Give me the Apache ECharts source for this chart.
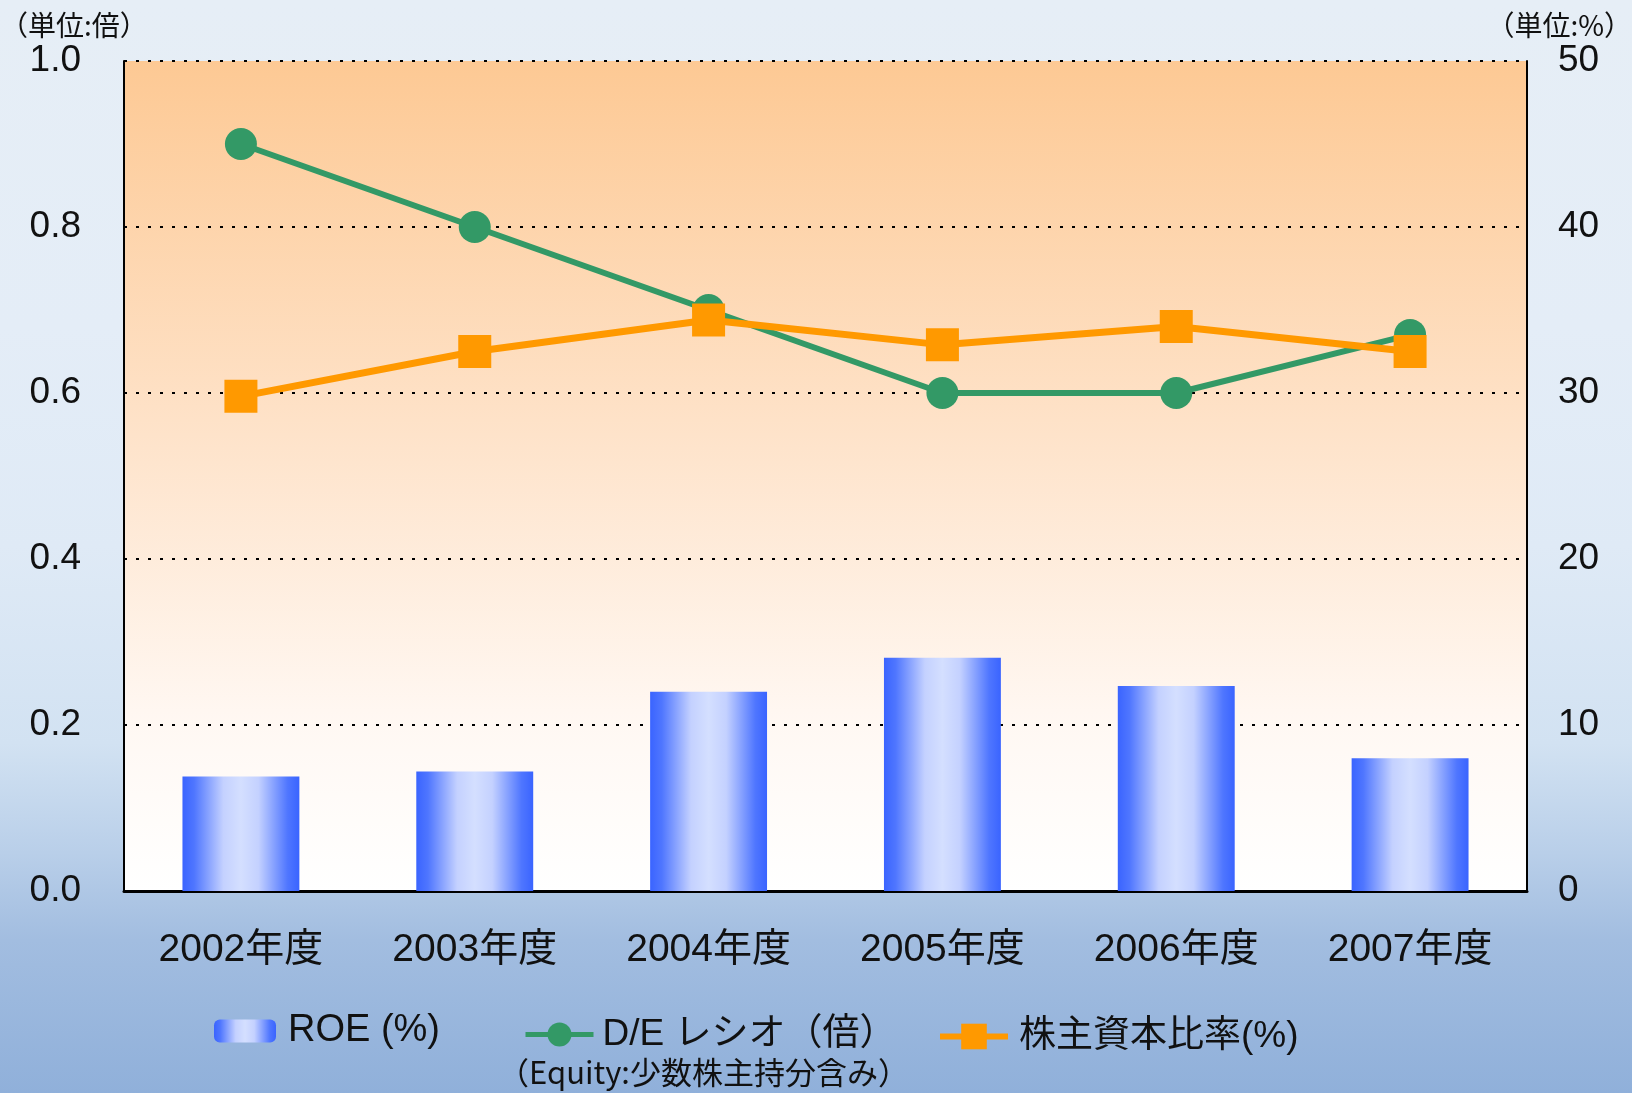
<!DOCTYPE html>
<html>
<head>
<meta charset="utf-8">
<script src="https://cdn.jsdelivr.net/npm/echarts@6/dist/echarts.min.js"></script>
<style>
html,body{margin:0;padding:0;width:1632px;height:1093px;overflow:hidden;}
body{background:linear-gradient(180deg,#e6eef6 0%,#e4edf7 30%,#dfeaf6 50%,#d2e2f2 68%,#b9cfe9 78%,#a2bde0 86%,#90b0da 100%);}
#c{width:1632px;height:1093px;}
</style>
</head>
<body>
<div id="c"></div>
<script>
const categories = ['2002年度','2003年度','2004年度','2005年度','2006年度','2007年度'];
const roe = [6.9, 7.2, 12.0, 14.05, 12.35, 8.0];
const deRatio = [0.9, 0.8, 0.7, 0.6, 0.6, 0.67];
const equityRatio = [29.8, 32.5, 34.4, 32.9, 34.0, 32.5];
const leftTicks = {min:0, max:1.0, interval:0.2};
const rightTicks = {min:0, max:50, interval:10};

const FONT = '"Liberation Sans", Arial, "Noto Sans CJK JP", sans-serif';
const chart = echarts.init(document.getElementById('c'), null, {renderer:'canvas'});

const barGrad = new echarts.graphic.LinearGradient(0,0,1,0,[
  {offset:0,color:'#3a64ff'},{offset:0.1,color:'#4f76ff'},
  {offset:0.35,color:'#c4d1ff'},{offset:0.5,color:'#d4dfff'},
  {offset:0.65,color:'#c4d1ff'},{offset:0.9,color:'#4f76ff'},{offset:1,color:'#3a64ff'}]);

chart.setOption({
  backgroundColor:'transparent',
  animation:false,
  textStyle:{fontFamily:FONT},
  grid:{left:124,right:105,top:61,bottom:202,show:true,borderWidth:0,
    backgroundColor:new echarts.graphic.LinearGradient(0,0,0,1,[
      {offset:0,color:'#fdc994'},{offset:0.45,color:'#fee3ca'},{offset:0.8,color:'#fff8f3'},{offset:1,color:'#ffffff'}])},
  xAxis:{type:'category',data:categories,
    axisLine:{show:true,lineStyle:{color:'#000',width:3}},
    axisTick:{show:false},
    axisLabel:{fontSize:39,color:'#111',margin:40,fontFamily:FONT}},
  yAxis:[
    {type:'value',min:leftTicks.min,max:leftTicks.max,interval:leftTicks.interval,position:'left',
     axisLine:{show:true,lineStyle:{color:'#000',width:2}},axisTick:{show:false},
     axisLabel:{fontSize:37,color:'#111',margin:43,formatter:v=>v.toFixed(1),fontFamily:FONT},
     splitLine:{show:true,lineStyle:{color:'#000',width:2,type:[3,9]}}},
    {type:'value',min:rightTicks.min,max:rightTicks.max,interval:rightTicks.interval,position:'right',
     axisLine:{show:true,lineStyle:{color:'#000',width:2}},axisTick:{show:false},
     axisLabel:{fontSize:37,color:'#111',margin:31,fontFamily:FONT},
     splitLine:{show:false}}
  ],
  legend:[
    {data:['ROE (%)'],left:214,top:1012,padding:0,itemWidth:62,itemHeight:23,
     textStyle:{fontSize:38,color:'#111',fontFamily:FONT,padding:[0,0,0,7]}},
    {data:['D/E レシオ（倍）'],left:523,top:1016,padding:0,itemWidth:68,itemHeight:30,
     lineStyle:{width:5},
     textStyle:{fontSize:37,color:'#111',fontFamily:FONT,padding:[0,0,0,4]}},
    {data:['株主資本比率(%)'],left:937,top:1018,padding:0,itemWidth:68,itemHeight:32,
     lineStyle:{width:6},
     textStyle:{fontSize:37,color:'#111',fontFamily:FONT,padding:[0,0,0,6]}}
  ],
  graphic:[
    {type:'text',left:0,top:11,style:{text:'（単位:倍）',font:'28px "Noto Sans CJK JP"',fill:'#111'}},
    {type:'text',right:0,top:11,style:{text:'（単位:%）',font:'28px "Noto Sans CJK JP"',fill:'#111'}},
    {type:'text',left:498,top:1057,style:{text:'（Equity:少数株主持分含み）',font:'31px "Noto Sans CJK JP"',fill:'#111'}}
  ],
  series:[
    {name:'ROE (%)',type:'bar',yAxisIndex:1,data:roe,barWidth:'50%',itemStyle:{color:barGrad},z:2},
    {name:'D/E レシオ（倍）',type:'line',yAxisIndex:0,data:deRatio,symbol:'circle',symbolSize:32,
     lineStyle:{color:'#339966',width:6},itemStyle:{color:'#339966'},z:3},
    {name:'株主資本比率(%)',type:'line',yAxisIndex:1,data:equityRatio,symbol:'rect',symbolSize:33,
     lineStyle:{color:'#ff9900',width:7},itemStyle:{color:'#ff9900'},z:4}
  ]
});
</script>
</body>
</html>
